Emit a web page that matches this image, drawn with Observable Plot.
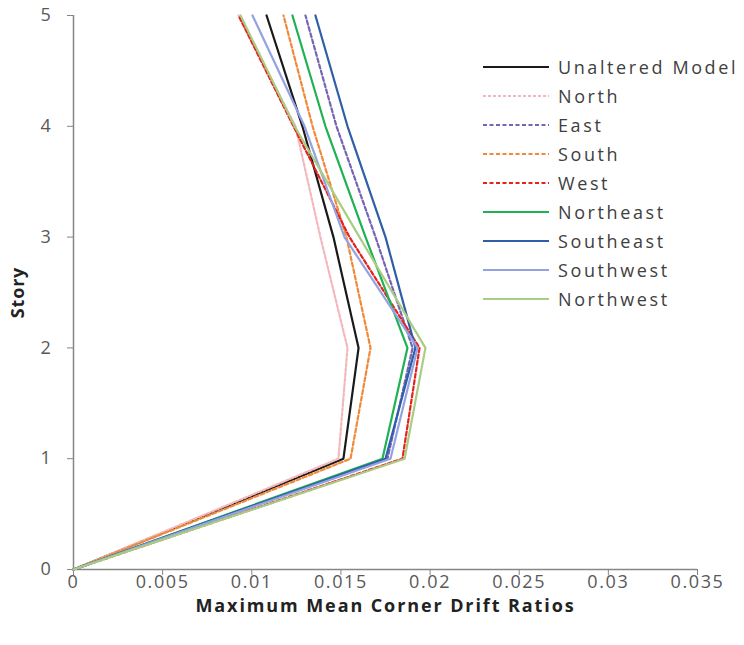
<!DOCTYPE html>
<html><head><meta charset="utf-8">
<script src="https://cdn.jsdelivr.net/npm/d3@7"></script>
<script src="https://cdn.jsdelivr.net/npm/@observablehq/plot@0.6"></script>
<style>
body{margin:0;background:#fff;font-family:"Open Sans",sans-serif;}
#wrap{position:relative;width:744px;height:645px;}
#legend{position:absolute;left:483px;top:52px;}
.row{display:flex;align-items:center;height:29.1px;}
.row svg{width:66px;height:4px;margin-right:9px;flex:none}
.row span{font-size:18px;color:#404040;letter-spacing:2.6px;white-space:nowrap}
svg [aria-label="x-axis label"] text{font-weight:bold;fill:#222;letter-spacing:1.9px}
svg [aria-label="y-axis label"] text{font-weight:bold;fill:#222;letter-spacing:0.8px}
svg [aria-label="x-axis tick label"] text, svg [aria-label="y-axis tick label"] text{letter-spacing:1.6px}
</style></head>
<body><div id="wrap"><div id="chart"></div><div id="legend"></div></div>
<script>
const stories = [0, 1, 2, 3, 4, 5];
const seriesNames = ["Unaltered Model","North","East","South","West","Northeast","Southeast","Southwest","Northwest"];
const unaltered = [0, 0.01514, 0.01599, 0.01458, 0.01284, 0.01083];
const north     = [0, 0.01486, 0.01537, 0.01385, 0.01245, 0.00926];
const east      = [0, 0.01761, 0.01902, 0.01694, 0.01475, 0.01301];
const south     = [0, 0.01554, 0.01666, 0.01531, 0.01341, 0.01178];
const west      = [0, 0.01845, 0.01941, 0.01548, 0.01234, 0.00926];
const northeast = [0, 0.01733, 0.01873, 0.01638, 0.01413, 0.01228];
const southeast = [0, 0.01750, 0.01918, 0.01750, 0.01537, 0.01357];
const southwest = [0, 0.01778, 0.01930, 0.01520, 0.01296, 0.01004];
const northwest = [0, 0.01857, 0.01974, 0.01604, 0.01240, 0.00937];
const xTicks = [0, 0.005, 0.01, 0.015, 0.02, 0.025, 0.03, 0.035];
const yTicks = [0, 1, 2, 3, 4, 5];

const values = [unaltered, north, east, south, west, northeast, southeast, southwest, northwest];
const colors = ["#1a1a1a","#f4b8bc","#7565b2","#f0893a","#e3231c","#1fb152","#2f5fa6","#93a3e2","#a9cd84"];
const dashes = [null,"3,2","4,2.5","4,2.5","4,2.5",null,null,null,null];

const grey = "#868686";
const lineMarks = values.map((vals, i) => Plot.line(
  stories.map((s, j) => ({story: s, drift: vals[j], series: seriesNames[i]})),
  {x: "drift", y: "story", stroke: colors[i], strokeWidth: 2.2, strokeDasharray: dashes[i]}
));

const chart = Plot.plot({
  width: 744, height: 630,
  marginLeft: 73, marginRight: 47, marginTop: 15, marginBottom: 61,
  x: {domain: [0, 0.035]},
  y: {domain: [0, 5]},
  style: {fontFamily: "Open Sans", fontSize: "18px", color: "#595959", background: "#fff", overflow: "visible"},
  marks: [
    Plot.axisX({ticks: xTicks, tickFormat: d => String(+d.toFixed(3)), tickSize: 6, tickPadding: 0, stroke: grey, strokeOpacity: 1,
      label: "Maximum Mean Corner Drift Ratios", labelAnchor: "center", labelArrow: "none", labelOffset: 42, fontSize: 18}),
    Plot.axisY({ticks: yTicks, tickFormat: d => String(d), tickSize: 6, tickPadding: 15, stroke: grey, strokeOpacity: 1,
      label: "Story", labelAnchor: "center", labelArrow: "none", labelOffset: 62, fontSize: 18}),
    Plot.ruleX([0], {stroke: grey, strokeWidth: 1.5}),
    Plot.ruleY([0], {stroke: grey, strokeWidth: 1.5}),
    ...lineMarks
  ]
});
document.getElementById("chart").appendChild(chart);

const legend = document.getElementById("legend");
seriesNames.forEach((name, i) => {
  const row = document.createElement("div");
  row.className = "row";
  row.innerHTML = `<svg viewBox="0 0 66 4"><line x1="0" y1="2" x2="66" y2="2" stroke="${colors[i]}" stroke-width="2" ${dashes[i] ? `stroke-dasharray="${dashes[i]}"` : ""}/></svg><span>${name}</span>`;
  legend.appendChild(row);
});
</script>
</body></html>
